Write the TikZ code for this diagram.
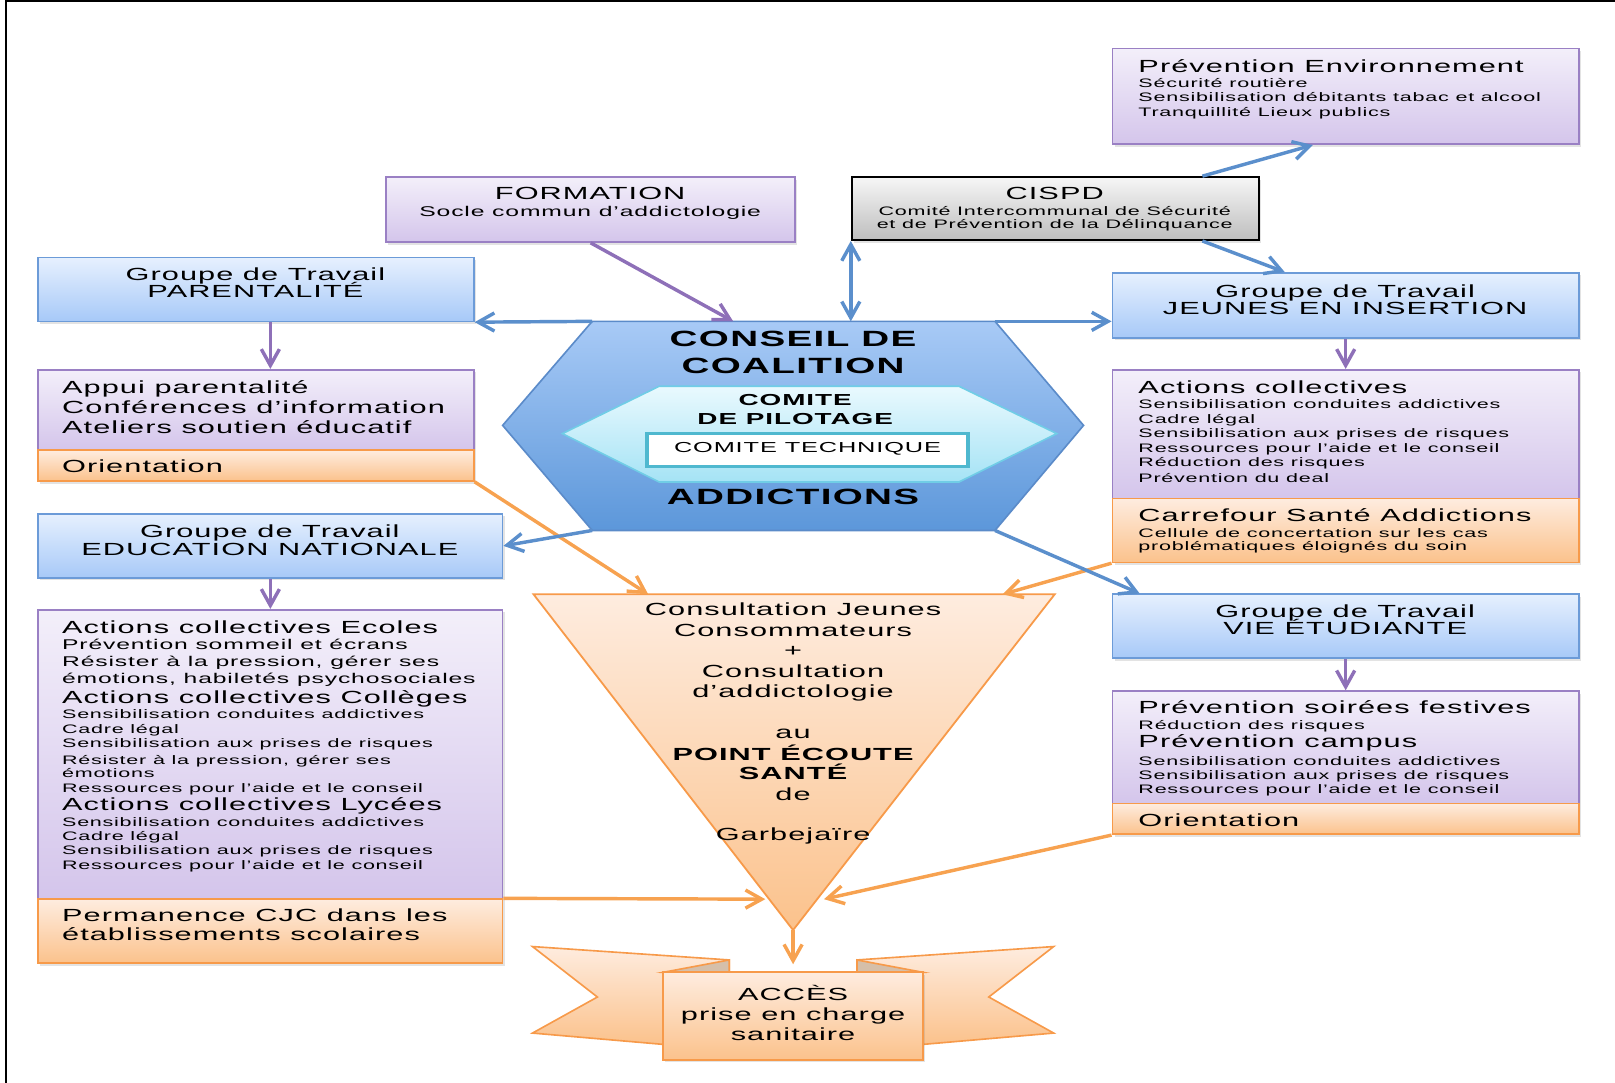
\documentclass[tikz,border=0pt]{standalone}
\usepackage{fontspec}
\setmainfont{Liberation Sans}[FakeStretch=1.75,LetterSpace=6]
\usetikzlibrary{arrows.meta,calc,fit,shadows}

\definecolor{MyPurple}{HTML}{9A80C4}
\definecolor{MyPurpleTop}{HTML}{F3EFFA}
\definecolor{MyPurpleBot}{HTML}{D4C5EB}
\definecolor{MyBlue}{HTML}{6C9BD8}
\definecolor{MyBlueTop}{HTML}{E6F0FE}
\definecolor{MyBlueBot}{HTML}{A7C9F8}
\definecolor{MyOrange}{HTML}{F79A4A}
\definecolor{MyOrangeTop}{HTML}{FEECDF}
\definecolor{MyOrangeBot}{HTML}{FBC28C}
\definecolor{MyGrayTop}{HTML}{F6F6F6}
\definecolor{MyGrayBot}{HTML}{BEBEBE}
\definecolor{HexTop}{HTML}{A8CAF6}
\definecolor{HexBot}{HTML}{5C97DA}
\definecolor{HexLine}{HTML}{5B8BC9}
\definecolor{CyanTop}{HTML}{E9F9FE}
\definecolor{CyanBot}{HTML}{A5E3F5}
\definecolor{CyanLine}{HTML}{70CDE6}
\definecolor{TechLine}{HTML}{4FB8CF}
\definecolor{FoldTan}{HTML}{D5BFAA}
\definecolor{ArrBlue}{HTML}{5B8FCC}
\definecolor{ArrPurple}{HTML}{8E70B8}
\definecolor{ArrOrange}{HTML}{F7A250}

\newcommand\fbig{\fontsize{9.7}{11}\selectfont}
\newcommand\fmed{\fontsize{7.8}{9}\selectfont}
\newcommand\fsmall{\fontsize{6.8}{8}\selectfont}

\tikzset{
  box/.style={inner sep=0pt, line width=0.9pt,
    drop shadow={opacity=0.22, shadow xshift=1.2pt, shadow yshift=-1.4pt}},
  purplebox/.style={box, draw=MyPurple, top color=MyPurpleTop, bottom color=MyPurpleBot},
  bluebox/.style={box, draw=MyBlue, top color=MyBlueTop, bottom color=MyBlueBot},
  orangebox/.style={box, draw=MyOrange, top color=MyOrangeTop, bottom color=MyOrangeBot},
  graybox/.style={box, draw=black, line width=1.1pt, top color=MyGrayTop, bottom color=MyGrayBot},
  lefttxt/.style={inner sep=0pt, anchor=base west},
  midtxt/.style={inner sep=0pt, anchor=base},
  link/.style={line width=1.9pt, -{Straight Barb[length=9pt,width=10pt]}},
  twoway/.style={{Straight Barb[length=9pt,width=10pt]}-{Straight Barb[length=9pt,width=10pt]}},
  bluelink/.style={link, draw=ArrBlue},
  purplelink/.style={link, draw=ArrPurple},
  orangelink/.style={link, draw=ArrOrange},
}

\begin{document}
\begin{tikzpicture}[x=0.02cm, y=-0.02cm]
\useasboundingbox (0,0) rectangle (1568,1051);
\draw[line width=1.4pt] (6,1051) -- (6,1) -- (1568,1);

% boxes
\node[purplebox, fit={(1080,47) (1533,140)}] (pe) {};
\node[purplebox, fit={(375,172) (772,235)}] (form) {};
\node[graybox, fit={(827,172) (1222,233)}] (cispd) {};
\node[bluebox, fit={(37,250) (460,312)}] (par) {};
\node[bluebox, fit={(1080,265) (1533,328)}] (jeunes) {};
\node[purplebox, fit={(37,359) (460,437)}] (appui) {};
\node[orangebox, fit={(37,437) (460,467)}] (orientL) {};
\node[purplebox, fit={(1080,359) (1533,484)}] (actions) {};
\node[orangebox, fit={(1080,484) (1533,546)}] (carrefour) {};
\node[bluebox, fit={(37,499) (488,561)}] (edn) {};
\node[purplebox, fit={(37,592) (488,873)}] (ecoles) {};
\node[orangebox, fit={(37,873) (488,935)}] (perm) {};
\node[bluebox, fit={(1080,577) (1533,639)}] (vie) {};
\node[purplebox, fit={(1080,671) (1533,780)}] (soirees) {};
\node[orangebox, fit={(1080,780) (1533,810)}] (orientR) {};

% conseil de coalition
\coordinate (hexL) at (488,413);
\coordinate (hexTL) at (575,312);
\coordinate (hexTR) at (966,312);
\coordinate (hexR) at (1052,413);
\coordinate (hexBR) at (966,515);
\coordinate (hexBL) at (575,515);
\draw[draw=HexLine, line width=0.9pt, top color=HexTop, bottom color=HexBot]
  (hexL) -- (hexTL) -- (hexTR) -- (hexR) -- (hexBR) -- (hexBL) -- cycle;
\draw[draw=CyanLine, line width=0.9pt, top color=CyanTop, bottom color=CyanBot]
  (546,421) -- (640,375) -- (931,375) -- (1026,421) -- (931,468) -- (640,468) -- cycle;
\node[draw=TechLine, line width=2pt, fill=white, inner sep=0pt, fit={(628,421) (940,453)}] (tech) {};

% consultation
\coordinate (triTL) at (518,577);
\coordinate (triTR) at (1024,577);
\coordinate (triB) at (770,903);
\coordinate (triL) at (743,873);
\coordinate (triR) at (800,873);
\draw[draw=MyOrange, line width=1pt, top color=MyOrangeTop, bottom color=MyOrangeBot]
  (triTL) -- (triTR) -- (triB) -- cycle;

% ruban acces
\draw[draw=MyOrange, line width=0.9pt, top color=MyOrangeTop, bottom color=MyOrangeBot]
  (517,919) -- (708,932) -- (708,946) -- (644,1014) -- (517,1003) -- (580,968) -- cycle;
\draw[draw=MyOrange, line width=0.9pt, top color=MyOrangeTop, bottom color=MyOrangeBot]
  (1023,919) -- (832,932) -- (832,946) -- (896,1014) -- (1023,1003) -- (960,968) -- cycle;
\draw[draw=MyOrange, line width=0.9pt, fill=FoldTan] (644,944) -- (708,932) -- (708,946) -- cycle;
\draw[draw=MyOrange, line width=0.9pt, fill=FoldTan] (896,944) -- (832,932) -- (832,946) -- cycle;
\node[orangebox, fit={(644,944) (896,1029)}] (acces) {};

% connectors
\draw[orangelink] (orientL.south east) -- ($(triTL)!0.22!(triTR)$);
\draw[orangelink] (carrefour.south west) -- ($(triTL)!0.9!(triTR)$);
\draw[orangelink] (perm.north east) -- (triL);
\draw[orangelink] (orientR.south west) -- (triR);
\draw[orangelink, shorten >=4pt] (triB) -- (acces.north);
\draw[purplelink] (form.south) -- ($(hexTL)!0.35!(hexTR)$);
\draw[bluelink, twoway] (cispd.south west) -- (cispd.south west |- hexTL);
\draw[bluelink] ($(cispd.north west)!0.86!(cispd.north east)$) -- ($(pe.south west)!0.43!(pe.south east)$);
\draw[bluelink] ($(cispd.south west)!0.86!(cispd.south east)$) -- ($(jeunes.north west)!0.37!(jeunes.north east)$);
\draw[bluelink] (hexTL) -- (par.south east);
\draw[bluelink] (hexTR) -- (jeunes.west |- hexTR);
\draw[bluelink] (hexBL) -- (edn.east);
\draw[bluelink] (hexBR) -- ($(vie.north west)!0.06!(vie.north east)$);
\draw[purplelink] (par.south -| edn.north) -- (appui.north -| edn.north);
\draw[purplelink] (jeunes.south) -- (actions.north);
\draw[purplelink] (edn.south) -- (ecoles.north);
\draw[purplelink] (vie.south) -- (soirees.north);

% texts
\foreach \yy/\fnt/\lab [count=\i] in {70/\fbig/Prévention Environnement, 85/\fsmall/Sécurité routière,
    99/\fsmall/Sensibilisation débitants tabac et alcool, 113/\fsmall/Tranquillité Lieux publics}
  \node[lefttxt, font=\fnt] (pe-\i) at (1105,\yy) {\lab};
\node[midtxt, font=\fbig] (form-1) at (573,194) {FORMATION};
\node[midtxt, font=\fmed] (form-2) at (573,210) {Socle commun d’addictologie};
\foreach \yy/\fnt/\lab [count=\i] in {194/\fbig/CISPD, 209/\fsmall/Comité Intercommunal de Sécurité,
    222/\fsmall/et de Prévention de la Délinquance}
  \node[midtxt, font=\fnt] (cispd-\i) at (1024,\yy) {\lab};
\node[midtxt, font=\fbig] (par-1) at (248,272) {Groupe de Travail};
\node[midtxt, font=\fbig] (par-2) at (248,289) {PARENTALITÉ};
\node[midtxt, font=\fbig] (jeunes-1) at (1306,289) {Groupe de Travail};
\node[midtxt, font=\fbig] (jeunes-2) at (1306,305) {JEUNES EN INSERTION};
\foreach \yy/\lab [count=\i] in {382/Appui parentalité, 401/Conférences d’information,
    421/Ateliers soutien éducatif, 459/Orientation}
  \node[lefttxt, font=\fbig] (appui-\i) at (60,\yy) {\lab};
\foreach \yy/\fnt/\lab [count=\i] in {382/\fbig/Actions collectives,
    397/\fsmall/Sensibilisation conduites addictives, 411/\fsmall/Cadre légal,
    425/\fsmall/Sensibilisation aux prises de risques, 439/\fsmall/Ressources pour l'aide et le conseil,
    453/\fsmall/Réduction des risques, 468/\fsmall/Prévention du deal,
    506/\fbig/Carrefour Santé Addictions, 522/\fsmall/Cellule de concertation sur les cas,
    534/\fsmall/problématiques éloignés du soin}
  \node[lefttxt, font=\fnt] (actions-\i) at (1105,\yy) {\lab};
\node[midtxt, font=\fbig] (edn-1) at (262,522) {Groupe de Travail};
\node[midtxt, font=\fbig] (edn-2) at (262,539) {EDUCATION NATIONALE};
\foreach \yy/\fnt/\lab [count=\i] in {615/\fbig/Actions collectives Ecoles,
    631/\fmed/Prévention sommeil et écrans, 647/\fmed/{Résister à la pression, gérer ses},
    664/\fmed/{émotions, habiletés psychosociales}, 683/\fbig/Actions collectives Collèges,
    698/\fsmall/Sensibilisation conduites addictives, 712/\fsmall/Cadre légal,
    726/\fsmall/Sensibilisation aux prises de risques, 742/\fsmall/{Résister à la pression, gérer ses},
    755/\fsmall/émotions, 769/\fsmall/Ressources pour l'aide et le conseil,
    787/\fbig/Actions collectives Lycées, 802/\fsmall/Sensibilisation conduites addictives,
    816/\fsmall/Cadre légal, 830/\fsmall/Sensibilisation aux prises de risques,
    844/\fsmall/Ressources pour l'aide et le conseil,
    895/\fbig/Permanence CJC dans les, 913/\fbig/établissements scolaires}
  \node[lefttxt, font=\fnt] (ecoles-\i) at (60,\yy) {\lab};
\node[midtxt, font=\fbig] (vie-1) at (1306,600) {Groupe de Travail};
\node[midtxt, font=\fbig] (vie-2) at (1306,616) {VIE ÉTUDIANTE};
\foreach \yy/\fnt/\lab [count=\i] in {693/\fbig/Prévention soirées festives,
    708/\fsmall/Réduction des risques, 726/\fbig/Prévention campus,
    743/\fsmall/Sensibilisation conduites addictives, 757/\fsmall/Sensibilisation aux prises de risques,
    770/\fsmall/Ressources pour l'aide et le conseil, 802/\fbig/Orientation}
  \node[lefttxt, font=\fnt] (soirees-\i) at (1105,\yy) {\lab};

\node[midtxt, font=\bfseries\fontsize{12.2}{14}\selectfont] (conseil-1) at (770,336) {CONSEIL DE};
\node[midtxt, font=\bfseries\fontsize{12.2}{14}\selectfont] (conseil-2) at (770,363) {COALITION};
\node[midtxt, font=\bfseries\fontsize{12.2}{14}\selectfont] (conseil-3) at (770,490) {ADDICTIONS};
\node[midtxt, font=\bfseries\fontsize{8.8}{10}\selectfont] (pilot-1) at (772,394) {COMITE};
\node[midtxt, font=\bfseries\fontsize{8.8}{10}\selectfont] (pilot-2) at (772,412) {DE PILOTAGE};
\node[midtxt, font=\fontsize{8}{9}\selectfont] (tech-1) at (tech.center |- 0,439) {COMITE TECHNIQUE};

\foreach \yy/\fnt/\lab [count=\i] in {598/\fbig/Consultation Jeunes, 618/\fbig/Consommateurs,
    637/\fbig/+, 658/\fbig/Consultation, 677/\fbig/d’addictologie, 717/\fbig/au,
    738/\bfseries\fbig/POINT ÉCOUTE, 757/\bfseries\fbig/SANTÉ, 777/\fbig/de, 816/\fbig/Garbejaïre}
  \node[midtxt, font=\fnt] (cjc-\i) at (770,\yy) {\lab};
\foreach \yy/\lab [count=\i] in {971/ACCÈS, 991/prise en charge, 1010/sanitaire}
  \node[midtxt, font=\fbig] (acces-\i) at (770,\yy) {\lab};
\end{tikzpicture}
\end{document}
